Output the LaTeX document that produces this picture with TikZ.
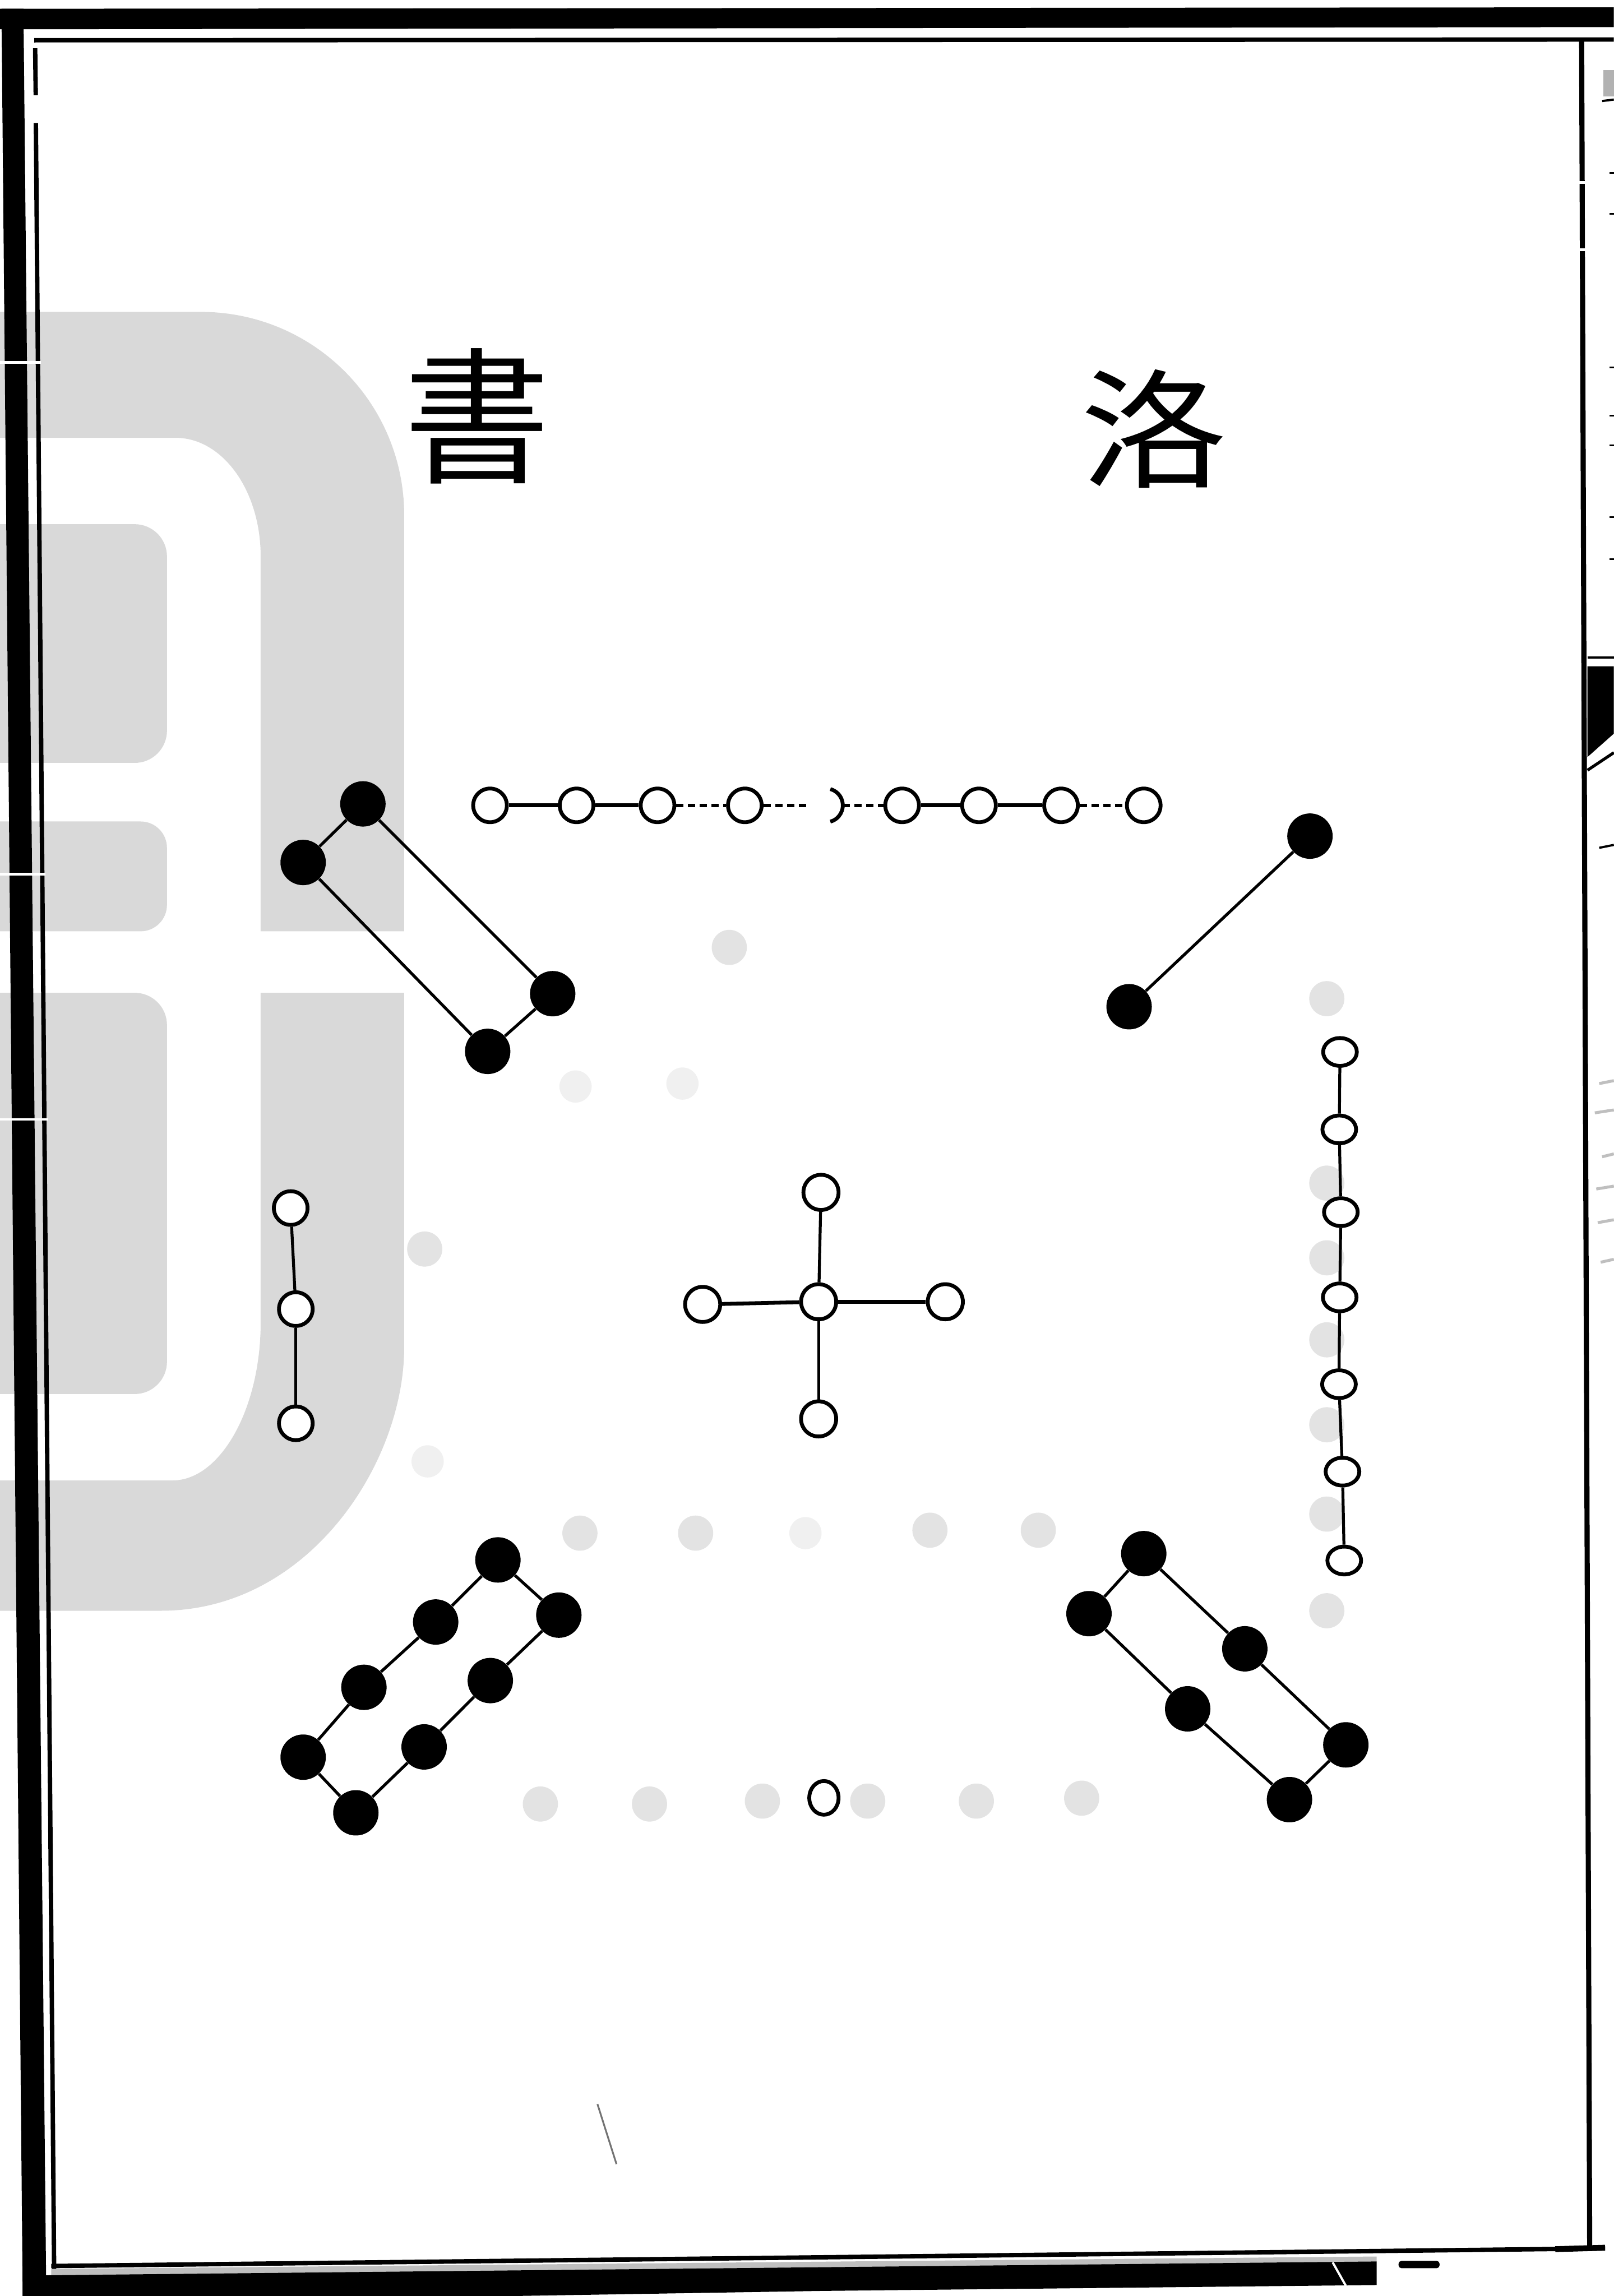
\documentclass[tikz,border=0pt]{standalone}
\usepackage{fontspec}
\newfontfamily\cjk{Noto Sans CJK TC}
\usetikzlibrary{shapes.geometric}
\begin{document}
\begin{tikzpicture}[x=1pt,y=-1pt,
  wm/.style={fill=black!15},
  ghost/.style={fill=black!11},
  faint/.style={fill=black!6},
  wdot/.style={circle, draw=black, fill=white, line width=2.6pt, inner sep=0pt, minimum size=23pt},
  wdotc/.style={wdot, minimum size=24pt},
  wdotr/.style={ellipse, draw=black, fill=white, line width=2.6pt, inner sep=0pt, minimum width=23pt, minimum height=19pt},
  wdots/.style={ellipse, draw=black, fill=white, line width=2.6pt, inner sep=0pt, minimum width=20pt, minimum height=23pt},
  bdot/.style={circle, fill=black, inner sep=0pt, minimum size=31pt},
  link/.style={line width=2pt},
  thick link/.style={line width=2.6pt},
  brk/.style={line width=2.2pt, dash pattern=on 5pt off 3pt},
  title/.style={font=\cjk\fontsize{100}{100}\selectfont, inner sep=0pt}]

\useasboundingbox (0,0) rectangle (1102,1568);
\fill[white] (0,0) rectangle (1102,1568);

% ---------- watermark ----------
\fill[wm] (0,213) -- (137,213) .. controls (214,213) and (276,275) .. (276,352)
  -- (276,636) -- (178,636) -- (178,380) .. controls (178,335) and (152,299) .. (120,299)
  -- (0,299) -- cycle;
\fill[wm] (276,678) -- (276,920) .. controls (276,1000) and (210,1100) .. (110,1100)
  -- (0,1100) -- (0,1011) -- (118,1011) .. controls (150,1011) and (178,963) .. (178,903)
  -- (178,678) -- cycle;
\fill[wm, rounded corners=22pt] (-40,358) rectangle (114,521);
\fill[wm, rounded corners=18pt] (-40,561) rectangle (114,636);
\fill[wm, rounded corners=22pt] (-40,678) rectangle (114,952);

% ---------- bleed-through ----------
\foreach \x/\y in {498/647, 290/853, 396/1047, 475/1047, 635/1045, 709/1045,
  369/1232, 443.5/1232, 520.6/1230, 592.5/1230, 666.7/1230, 738.6/1228,
  906/682, 906/808, 906/859, 906/915, 906/973, 906/1034, 906/1100}
  \fill[ghost] (\x,\y) circle[radius=12pt];
\foreach \x/\y in {466/740, 393/742, 292/998, 550/1047}
  \fill[faint] (\x,\y) circle[radius=11pt];
\draw[black!55, line width=1.2pt] (408,1437) -- (421,1478);

% ---------- frame ----------
\fill[black] (0,6) -- (1102,5) -- (1102,18.5) -- (0,20) -- cycle;
\fill[black] (1,6) -- (16,6) -- (31.6,1568) -- (15.5,1568) -- cycle;
\draw[line width=3pt] (23.4,27.5) -- (1102,27);
\draw[line width=3pt] (24,33) -- (24.4,65);
\draw[line width=3pt] (24.5,84) -- (37,1555);
\draw[line width=3.5pt] (1080,27) -- (1085.5,1535);
\draw[line width=3pt] (35,1547.5) -- (1096,1535.5);
\draw[line width=4pt] (1062,1536) -- (1096,1535);
\fill[black!25] (35,1549.5) -- (940,1541) -- (940,1544.5) -- (35,1554) -- cycle;
\fill[black] (15.5,1554) -- (940,1544.4) -- (940,1560.5) -- (562,1564.5) -- (350,1568) -- (15.5,1568) -- cycle;
\draw[white, line width=1.5pt] (910,1545) -- (919,1561);
\fill[black, rounded corners=2pt] (955,1544) rectangle (983,1549);
\foreach \yy/\xa/\xb in {247.5/0/28, 597/0/31, 764.5/0/33}
  \draw[white, line width=1.8pt] (\xa,\yy) -- (\xb,\yy);
\foreach \yy in {124.5, 170.5}
  \draw[white, line width=2pt] (1077,\yy) -- (1084,\yy);

% next page edge
\draw[line width=1.5pt] (1084,449) -- (1102,449);
\fill[black] (1084,455) -- (1102,455) -- (1102,501) -- (1084,517) -- cycle;
\draw[line width=2pt] (1084,526) -- (1102,514);
\draw[line width=1.5pt] (1092,579) -- (1102,577);
\fill[black!30] (1095,48) rectangle (1102,66);
\draw[line width=1.5pt] (1094,69) -- (1102,68);
\foreach \yy in {118, 146, 251, 284, 304, 353, 382}
  \draw[line width=1.2pt] (1099,\yy) -- (1102,\yy);
\foreach \yy/\xx in {740/1092, 760/1089, 790/1094, 812/1090, 835/1091, 862/1093}
  \draw[black!25, line width=2pt] (\xx,\yy) -- (1102,\yy-2);

% ---------- title ----------
\node[title] (shu) at (326,284) {書};
\node[title, yscale=0.88, transform shape] (luo) at (788,293) {洛};

% ---------- top row: nine ----------
\node[wdot] (t1) at (334.6,550) {};
\node[wdot] (t2) at (393.7,550) {};
\node[wdot] (t3) at (449,550) {};
\node[wdot] (t4) at (508.6,550) {};
\node[circle, inner sep=0pt, outer sep=0pt, minimum size=23pt] (t5) at (564,550) {};
\node[wdot] (t6) at (616,550) {};
\node[wdot] (t7) at (668.5,550) {};
\node[wdot] (t8) at (724.5,550) {};
\node[wdot] (t9) at (781,550) {};
\draw[line width=2.6pt] (t5.-75) arc[start angle=-75, end angle=75, radius=11.5pt];
\draw[thick link] (t1) -- (t2);
\draw[thick link] (t2) -- (t3);
\draw[brk] (t3) -- (t4);
\draw[brk] (t4) -- (t5);
\draw[brk] (t5) -- (t6);
\draw[thick link] (t6) -- (t7);
\draw[thick link] (t7) -- (t8);
\draw[brk] (t8) -- (t9);

% ---------- top left: four ----------
\node[bdot] (a1) at (247.8,549) {};
\node[bdot] (a2) at (207,589) {};
\node[bdot] (a3) at (377.4,678.6) {};
\node[bdot] (a4) at (333,718) {};
\draw[link] (a1) -- (a2);
\draw[link] (a2) -- (a4);
\draw[link] (a4) -- (a3);
\draw[link] (a3) -- (a1);

% ---------- top right: two ----------
\node[bdot] (b1) at (894.5,571) {};
\node[bdot] (b2) at (771,687.5) {};
\draw[link] (b1) -- (b2);

% ---------- right: seven ----------
\node[wdotr] (r1) at (915,718.4) {};
\node[wdotr] (r2) at (914.5,771.3) {};
\node[wdotr] (r3) at (915.6,827.8) {};
\node[wdotr] (r4) at (914.8,886) {};
\node[wdotr] (r5) at (914.3,945.3) {};
\node[wdotr] (r6) at (916.7,1005) {};
\node[wdotr] (r7) at (917.9,1065.7) {};
\foreach \i [evaluate=\i as \j using int(\i+1)] in {1,...,6}
  \draw[link] (r\i) -- (r\j);

% ---------- centre: five ----------
\node[wdotc] (c0) at (559,889) {};
\node[wdotc] (c1) at (560.6,814.3) {};
\node[wdotc] (c2) at (559,969) {};
\node[wdotc] (c3) at (479.8,890.8) {};
\node[wdotc] (c4) at (645.5,889) {};
\draw[link] (c0) -- (c1);
\draw[link] (c0) -- (c2);
\draw[thick link] (c0) -- (c3);
\draw[thick link] (c0) -- (c4);

% ---------- left: three ----------
\node[wdot] (l1) at (198.5,825) {};
\node[wdot] (l2) at (202,894) {};
\node[wdot] (l3) at (202,972) {};
\draw[link] (l1) -- (l2);
\draw[link] (l2) -- (l3);

% ---------- bottom left: eight ----------
\node[bdot] (d1) at (340,1065.3) {};
\node[bdot] (d2) at (297.5,1107.7) {};
\node[bdot] (d3) at (248.5,1152.3) {};
\node[bdot] (d4) at (207,1200) {};
\node[bdot] (d5) at (243,1238) {};
\node[bdot] (d6) at (289.6,1193) {};
\node[bdot] (d7) at (334.8,1147.7) {};
\node[bdot] (d8) at (381.6,1103) {};
\draw[link] (d1) -- (d2) -- (d3) -- (d4) -- (d5) -- (d6) -- (d7) -- (d8) -- (d1);

% ---------- bottom right: six ----------
\node[bdot] (e1) at (781,1061) {};
\node[bdot] (e2) at (743.6,1102) {};
\node[bdot] (e3) at (811,1167) {};
\node[bdot] (e4) at (880.5,1229) {};
\node[bdot] (e5) at (919,1191.6) {};
\node[bdot] (e6) at (850,1126) {};
\draw[link] (e1) -- (e2) -- (e3) -- (e4) -- (e5) -- (e6) -- (e1);

% ---------- bottom: one ----------
\node[wdots] (s1) at (562.6,1227.8) {};

\end{tikzpicture}
\end{document}
